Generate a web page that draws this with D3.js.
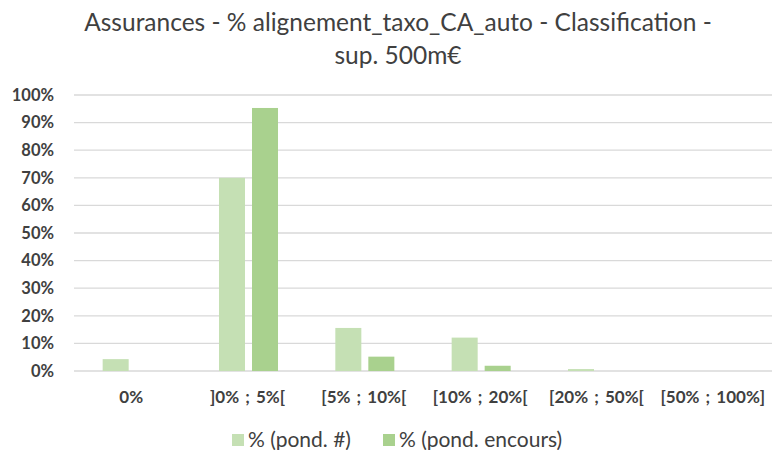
<!DOCTYPE html>
<html><head><meta charset="utf-8">
<script src="https://cdn.jsdelivr.net/npm/d3@7"></script>
<style>body{margin:0;background:#fff}svg{display:block}</style>
</head><body>
<script>
const categories = ["0%", "]0% ; 5%[", "[5% ; 10%[", "[10% ; 20%[", "[20% ; 50%[", "[50% ; 100%]"];
const seriesNames = ["% (pond. #)", "% (pond. encours)"];
const pondCount = [0.043, 0.70, 0.156, 0.121, 0.007, 0.0];
const pondEncours = [0.0, 0.953, 0.052, 0.019, 0.0, 0.0];
const yTicks = [0, 0.1, 0.2, 0.3, 0.4, 0.5, 0.6, 0.7, 0.8, 0.9, 1.0];
const colors = ["#c5e0b4", "#a9d18e"];
const titleLines = ["Assurances - % alignement_taxo_CA_auto - Classification -", "sup. 500m€"];

const W = 772, H = 450;
const font = "Lato, 'Open Sans', sans-serif";
const svg = d3.select("body").append("svg").attr("width", W).attr("height", H);

const y = d3.scaleLinear().domain([0, 1]).range([371, 95]);
const x0 = d3.scaleBand().domain(categories).range([74, 772]).paddingInner(0).paddingOuter(0);
const x1 = d3.scaleBand().domain(seriesNames).range([0, x0.bandwidth()]).paddingInner(0.212).paddingOuter(0.868);

// gridlines
svg.append("g").selectAll("line").data(yTicks).join("line")
  .attr("x1", 74).attr("x2", 772)
  .attr("y1", d => y(d)).attr("y2", d => y(d))
  .attr("stroke", "#d9d9d9").attr("stroke-width", 1.3);

// y axis labels
svg.append("g").selectAll("text").data(yTicks).join("text")
  .attr("x", 54).attr("y", d => y(d)).attr("dy", "0.35em")
  .attr("text-anchor", "end").attr("font-family", font).attr("font-weight", "bold")
  .attr("font-size", 16.5).attr("fill", "#404040")
  .text(d => d3.format(".0%")(d));

// bars
const data = categories.map((c, i) => ({ c, vals: [pondCount[i], pondEncours[i]] }));
const g = svg.append("g").selectAll("g").data(data).join("g")
  .attr("transform", d => `translate(${x0(d.c)},0)`);
g.selectAll("rect").data(d => d.vals.map((v, j) => ({ v, s: seriesNames[j], j })))
  .join("rect")
  .attr("x", d => x1(d.s)).attr("width", x1.bandwidth())
  .attr("y", d => y(d.v)).attr("height", d => y(0) - y(d.v))
  .attr("fill", d => colors[d.j]);

// x labels
svg.append("g").selectAll("text").data(categories).join("text")
  .attr("x", d => x0(d) + x0.bandwidth() / 2 - 1).attr("y", 397).attr("dy", "0.35em")
  .attr("text-anchor", "middle").attr("font-family", font).attr("font-weight", "bold")
  .attr("font-size", 17).attr("word-spacing", 2).attr("fill", "#404040")
  .text(d => d);

// title
svg.append("g").selectAll("text").data(titleLines).join("text")
  .attr("x", 398).attr("y", (d, i) => 22 + i * 33).attr("dy", "0.35em")
  .attr("text-anchor", "middle").attr("font-family", font)
  .attr("font-size", 24.5).attr("fill", "#404040")
  .text(d => d);

// legend
const legX = [232, 383];
const lg = svg.append("g").selectAll("g").data(seriesNames).join("g")
  .attr("transform", (d, i) => `translate(${legX[i]},440)`);
lg.append("rect").attr("x", 0).attr("y", -6).attr("width", 12).attr("height", 12)
  .attr("fill", (d, i) => colors[i]);
lg.append("text").attr("x", 16).attr("y", 0).attr("dy", "0.35em")
  .attr("font-family", font).attr("font-size", 21).attr("fill", "#404040")
  .text(d => d);
</script>
</body></html>
